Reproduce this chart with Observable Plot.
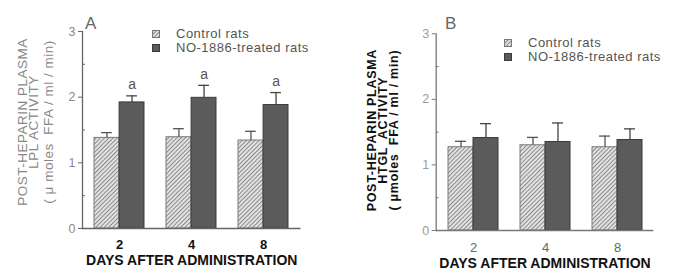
<!DOCTYPE html>
<html>
<head>
<meta charset="utf-8">
<script src="https://cdn.jsdelivr.net/npm/d3@7"></script>
<script src="https://cdn.jsdelivr.net/npm/@observablehq/plot@0.6"></script>
<style>
  html, body { margin: 0; padding: 0; background: #fff; }
  #wrap { position: relative; width: 673px; height: 276px; overflow: hidden; font-family: "Liberation Sans", Arial, sans-serif; }
  .panel { position: absolute; top: 0; }
  .letter { position: absolute; font-size: 17px; color: #666; }
  .legend { position: absolute; font-size: 13px; line-height: 14px; letter-spacing: 0.5px; color: #555; }
  .legend .row { display: flex; align-items: center; white-space: nowrap; height: 14px; }
  .legend .sw { width: 8px; height: 8px; margin-right: 16px; box-sizing: border-box; }
  .legend .sw svg { display: block; }
</style>
</head>
<body>
<svg width="0" height="0" style="position:absolute">
  <defs>
    <pattern id="hatch" patternUnits="userSpaceOnUse" width="3" height="3" patternTransform="rotate(45)">
      <rect width="3" height="3" fill="#e4e4e4"></rect>
      <line x1="0.5" y1="0" x2="0.5" y2="3" stroke="#8c8c8c" stroke-width="1.1"></line>
    </pattern>
  </defs>
</svg>
<div id="wrap">
  <div id="panelA" class="panel" style="left:0px"></div>
  <div id="panelB" class="panel" style="left:336px"></div>
  <div class="letter" style="left:85px; top:14px;">A</div>
  <div class="letter" style="left:445px; top:14px;">B</div>
  <div class="legend" id="legA" style="left:152px; top:27px;"></div>
  <div class="legend" id="legB" style="left:504px; top:36px;"></div>
</div>
<script>
// ---- data ----
const days = ["2", "4", "8"];
const groups = ["Control rats", "NO-1886-treated rats"];

const lplControl = [1.38, 1.39, 1.34];
const lplControlErr = [0.08, 0.13, 0.14];
const lplTreated = [1.92, 1.99, 1.88];
const lplTreatedErr = [0.10, 0.19, 0.19];
const lplSignif = ["a", "a", "a"];

const htglControl = [1.27, 1.30, 1.27];
const htglControlErr = [0.09, 0.12, 0.17];
const htglTreated = [1.41, 1.35, 1.38];
const htglTreatedErr = [0.22, 0.29, 0.17];

const yTicks = [0, 1, 2, 3];
const yMinorTicks = [0.5, 1.5, 2.5];
const xTitle = "DAYS AFTER ADMINISTRATION";
const yLabelA = ["POST-HEPARIN PLASMA", "LPL ACTIVITY", "( \u03bc moles  FFA / ml / min)"];
const yLabelB = ["POST-HEPARIN PLASMA", "HTGL  ACTIVITY", "( \u03bcmoles  FFA / ml / min)"];

// ---- helpers ----
const FONT = '"Liberation Sans", Arial, sans-serif';
const padInner = 0.31, padOuter = 0.156;

function rows(vals, errs) {
  return days.map((d, i) => ({day: d, value: vals[i], top: vals[i] + errs[i]}));
}

function panel(cfg) {
  const ctrl = rows(cfg.control, cfg.controlErr);
  const trt = rows(cfg.treated, cfg.treatedErr);
  const plotW = cfg.width - cfg.marginLeft - cfg.marginRight;
  const step = plotW / (days.length - padInner + 2 * padOuter);
  const bw = step * (1 - padInner);
  const half = bw / 2;
  const cap = 11;
  const capIn = (half - cap) / 2;

  const marks = [
    Plot.barY(ctrl, {x: "day", y: "value", insetRight: half, fill: "url(#hatch)", stroke: "#7a7a7a", strokeWidth: 1}),
    Plot.barY(trt, {x: "day", y: "value", insetLeft: half, fill: "#5b5b5b", stroke: "#3a3a3a", strokeWidth: 1}),
    Plot.ruleX(ctrl, {x: "day", y1: "value", y2: "top", dx: -half / 2, stroke: "#555", strokeWidth: 1.3}),
    Plot.tickY(ctrl, {x: "day", y: "top", insetLeft: capIn, insetRight: half + capIn, stroke: "#555", strokeWidth: 1.3}),
    Plot.ruleX(trt, {x: "day", y1: "value", y2: "top", dx: half / 2, stroke: "#444", strokeWidth: 1.3}),
    Plot.tickY(trt, {x: "day", y: "top", insetLeft: half + capIn, insetRight: capIn, stroke: "#444", strokeWidth: 1.3}),
    Plot.ruleY([0], {stroke: cfg.axisColor, strokeWidth: 1.3}),
    Plot.frame({anchor: "left", stroke: cfg.axisColor, strokeWidth: 1.3}),
    Plot.axisY({ticks: yTicks, tickSize: 4, tickPadding: 3, tickFormat: d3.format("d"),
      fontSize: 12.5, color: cfg.tickColor, stroke: cfg.axisColor, label: null}),
    Plot.axisY({ticks: yMinorTicks, tickSize: -3, tickFormat: () => "", stroke: cfg.axisColor, label: null}),
    Plot.axisX({tickSize: 0, tickPadding: cfg.xTickPad, fontSize: 13, fontWeight: cfg.xTickWeight,
      color: cfg.xTickColor, label: null}),
    Plot.text([xTitle], {frameAnchor: "bottom", dy: cfg.titleDy, fontSize: 14, fontWeight: "bold", fill: "#111"}),
  ];
  cfg.yLabel.forEach((t, i) => {
    marks.push(Plot.text([t], {frameAnchor: "left", textAnchor: "middle", rotate: -90, dx: cfg.yLabelDx[i], dy: cfg.yLabelDy,
      fontSize: cfg.yLabelSize, fontWeight: cfg.yLabelWeight, fill: cfg.yLabelColor}));
  });
  if (cfg.signif) {
    marks.push(Plot.text(trt.map((r, i) => ({...r, s: cfg.signif[i]})),
      {x: "day", y: "top", text: "s", dx: half / 2, dy: -11, fontSize: 14, fill: "#555"}));
  }

  const svg = Plot.plot({
    width: cfg.width,
    height: 276,
    marginLeft: cfg.marginLeft,
    marginRight: cfg.marginRight,
    marginTop: cfg.marginTop,
    marginBottom: cfg.marginBottom,
    style: {fontFamily: FONT, background: "transparent", overflow: "visible"},
    x: {type: "band", domain: days, paddingInner: padInner, paddingOuter: padOuter, axis: null},
    y: {domain: [0, 3], axis: null},
    marks
  });
  svg.querySelectorAll("text").forEach((el) => {
    const tr = el.getAttribute("transform") || "";
    if (tr.includes("rotate")) el.style.letterSpacing = cfg.yLabelSpacing;
  });
  return svg;
}

document.getElementById("panelA").append(panel({
  width: 336, marginLeft: 82, marginRight: 35.5, marginTop: 31, marginBottom: 48,
  control: lplControl, controlErr: lplControlErr, treated: lplTreated, treatedErr: lplTreatedErr,
  signif: lplSignif,
  axisColor: "#666", tickColor: "#8a8a8a",
  xTickPad: 11, xTickWeight: "bold", xTickColor: "#111", titleDy: 36,
  yLabel: yLabelA, yLabelDx: [-60, -49, -34], yLabelDy: -8, yLabelSize: 13.5, yLabelWeight: "normal",
  yLabelColor: "#888", yLabelSpacing: "0.5px"
}));

document.getElementById("panelB").append(panel({
  width: 337, marginLeft: 99.7, marginRight: 19.7, marginTop: 33.3, marginBottom: 46,
  control: htglControl, controlErr: htglControlErr, treated: htglTreated, treatedErr: htglTreatedErr,
  signif: null,
  axisColor: "#777", tickColor: "#9a9a9a",
  xTickPad: 12, xTickWeight: "normal", xTickColor: "#666", titleDy: 37,
  yLabel: yLabelB, yLabelDx: [-64, -53.5, -42.5], yLabelDy: -2, yLabelSize: 12.5, yLabelWeight: "bold",
  yLabelColor: "#111", yLabelSpacing: "0.7px"
}));

function legend(id) {
  const el = document.getElementById(id);
  groups.forEach((g, i) => {
    const row = document.createElement("div");
    row.className = "row";
    const sw = document.createElement("div");
    sw.className = "sw";
    sw.innerHTML = i === 0
      ? '<svg width="8" height="8"><rect x="0.5" y="0.5" width="7" height="7" fill="url(#hatch)" stroke="#777"/></svg>'
      : '<svg width="8" height="8"><rect x="0.5" y="0.5" width="7" height="7" fill="#5b5b5b" stroke="#3a3a3a"/></svg>';
    const tx = document.createElement("span");
    tx.textContent = g;
    row.append(sw, tx);
    el.append(row);
  });
}
legend("legA");
legend("legB");
</script>
</body>
</html>
